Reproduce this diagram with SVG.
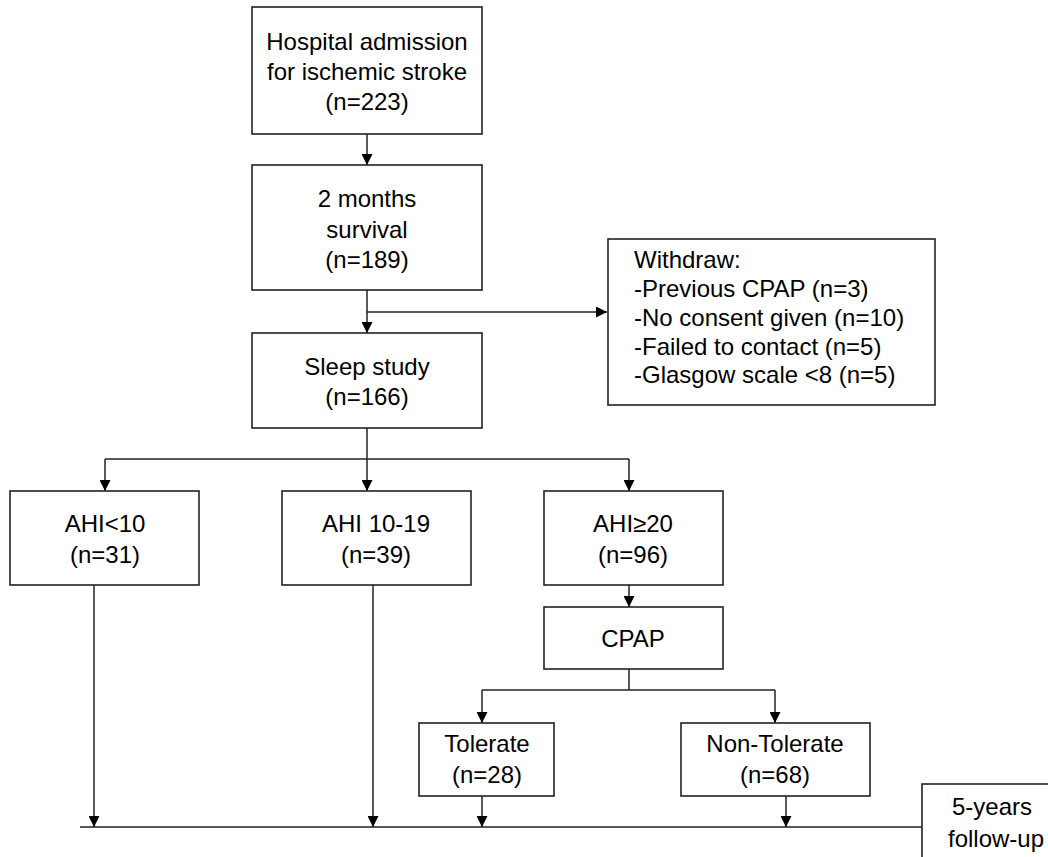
<svg xmlns="http://www.w3.org/2000/svg" width="1048" height="857" viewBox="0 0 1048 857">
<defs>
<marker id="arr" viewBox="0 0 10 10" refX="10" refY="5" markerWidth="12" markerHeight="11" markerUnits="userSpaceOnUse" orient="auto">
<path d="M0,0 L10,5 L0,10 z" fill="#000"/>
</marker>
<style>
.box{fill:#fff;stroke:#222;stroke-width:1.6}
.t{font-family:"Liberation Sans",Arial,sans-serif;font-size:24px;fill:#000;text-anchor:middle}
.tl{font-family:"Liberation Sans",Arial,sans-serif;font-size:24px;fill:#000}
.c{fill:none;stroke:#222;stroke-width:1.5}
.a{fill:none;stroke:#222;stroke-width:1.5;marker-end:url(#arr)}
</style>
</defs>
<rect width="1048" height="857" fill="#fff"/>
<g id="connectors">
<path class="a" d="M367,134 V165"/>
<path class="a" d="M367,290 V333"/>
<path class="a" d="M367,312 H607"/>
<path class="c" d="M367,428 V459"/>
<path class="c" d="M105,459 H629"/>
<path class="a" d="M105,459 V491"/>
<path class="a" d="M367,459 V491"/>
<path class="a" d="M629,459 V491"/>
<path class="a" d="M629,585 V607"/>
<path class="c" d="M629,669 V690"/>
<path class="c" d="M482,690 H775"/>
<path class="a" d="M482,690 V723"/>
<path class="a" d="M775,690 V723"/>
<path class="a" d="M94,585 V827"/>
<path class="a" d="M373,585 V827"/>
<path class="a" d="M482,796 V827"/>
<path class="a" d="M786,796 V827"/>
<path class="c" d="M80,827 H922"/>
</g>
<g id="n1"><rect class="box" x="252" y="7" width="230" height="127"/>
<text class="t" x="367" y="50">Hospital admission</text>
<text class="t" x="367" y="80">for ischemic stroke</text>
<text class="t" x="367" y="110">(n=223)</text></g>
<g id="n2"><rect class="box" x="252" y="165" width="230" height="125"/>
<text class="t" x="367" y="207">2 months</text>
<text class="t" x="367" y="238">survival</text>
<text class="t" x="367" y="268">(n=189)</text></g>
<g id="n3"><rect class="box" x="252" y="333" width="230" height="95"/>
<text class="t" x="367" y="375">Sleep study</text>
<text class="t" x="367" y="405">(n=166)</text></g>
<g id="withdraw"><rect class="box" x="608" y="239" width="327" height="166"/>
<text class="tl" x="634" y="268">Withdraw:</text>
<text class="tl" x="634" y="297">-Previous CPAP (n=3)</text>
<text class="tl" x="634" y="326">-No consent given (n=10)</text>
<text class="tl" x="634" y="355">-Failed to contact (n=5)</text>
<text class="tl" x="634" y="383">-Glasgow scale &lt;8 (n=5)</text></g>
<g id="ahi1"><rect class="box" x="10" y="491" width="189" height="94"/>
<text class="t" x="105" y="532">AHI&lt;10</text>
<text class="t" x="105" y="563">(n=31)</text></g>
<g id="ahi2"><rect class="box" x="282" y="491" width="189" height="94"/>
<text class="t" x="376" y="532">AHI 10-19</text>
<text class="t" x="376" y="563">(n=39)</text></g>
<g id="ahi3"><rect class="box" x="544" y="491" width="179" height="94"/>
<text class="t" x="633" y="532">AHI≥20</text>
<text class="t" x="633" y="563">(n=96)</text></g>
<g id="cpap"><rect class="box" x="544" y="607" width="179" height="62"/>
<text class="t" x="633" y="647">CPAP</text></g>
<g id="tol"><rect class="box" x="419" y="723" width="135" height="73"/>
<text class="t" x="487" y="752">Tolerate</text>
<text class="t" x="487" y="783">(n=28)</text></g>
<g id="nontol"><rect class="box" x="681" y="723" width="189" height="73"/>
<text class="t" x="775" y="752">Non-Tolerate</text>
<text class="t" x="775" y="783">(n=68)</text></g>
<g id="follow"><rect class="box" x="922" y="784" width="140" height="90"/>
<text class="t" x="992" y="815">5-years</text>
<text class="t" x="996" y="847">follow-up</text></g>
</svg>
